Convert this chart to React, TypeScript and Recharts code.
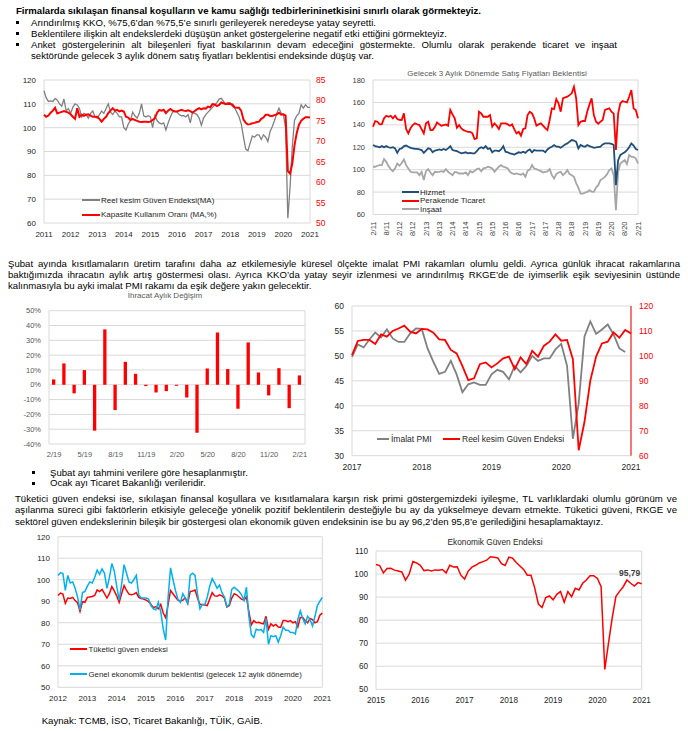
import React from "react";
import { LineChart, Line, BarChart, Bar, XAxis, YAxis, CartesianGrid, LabelList } from "recharts";

const FONT = "'Liberation Sans', Arial, Helvetica, sans-serif";
const GRID = "#d9d9d9";
const RED = "#ff0000";

// ---------- Reel kesim güven endeksi (MA) & KKO, 2011/01 - 2021/01 ----------
const rkgeMa = [
  115.5, 112.5, 111.0, 111.2, 111.0, 112.3, 111.5, 110.0, 109.0, 112.0, 107.0, 108.0,
  106.0, 108.5, 110.0, 109.5, 108.0, 104.5, 106.0, 105.5, 104.0, 106.0, 107.0, 104.5,
  104.0, 105.5, 107.0, 106.0, 108.0, 110.0, 106.5, 105.5, 107.0, 106.0, 104.5, 104.5,
  100.0, 99.0, 101.5, 103.0, 106.5, 105.0, 104.0, 106.0, 110.0, 105.0, 104.5, 105.0,
  104.5, 100.0, 105.0, 103.0, 102.0, 101.5, 102.0, 99.0, 102.0, 104.5, 106.5, 107.0,
  106.5, 105.5, 105.0, 105.0, 104.5, 105.5, 102.0, 106.5, 106.0, 105.5, 104.0, 101.0,
  104.0, 105.5, 106.5, 107.5, 108.5, 109.5, 110.5, 112.0, 112.3, 111.0, 110.0, 110.5,
  110.5, 109.0, 108.3, 106.5, 104.5, 101.5, 96.0, 91.0, 90.3, 93.5, 96.5, 96.0,
  97.0, 97.0, 95.0, 97.0, 96.0, 94.2, 98.4, 100.5, 103.0, 106.0, 108.2, 106.0,
  105.5, 100.0, 62.0, 75.0, 92.0, 103.0, 105.0, 106.0, 109.6, 108.2, 109.6, 108.5,
  108.5,
];
const kko = [
  76.5, 76.0, 76.3, 77.0, 77.5, 78.2, 76.8, 77.0, 77.2, 77.4, 77.2, 77.0,
  76.6, 76.0, 75.5, 78.1, 76.0, 76.5, 76.2, 76.5, 76.6, 76.3, 76.0, 76.0,
  76.0, 75.5, 74.8, 75.5, 76.0, 76.9, 77.5, 78.1, 77.5, 77.7, 77.3, 77.5,
  77.3, 76.0, 75.8, 75.2, 75.5, 75.2, 75.0, 74.8, 74.7, 74.8, 74.8, 74.7,
  74.8, 75.2, 75.6, 77.0, 77.7, 77.5, 77.7, 76.9, 77.5, 77.9, 77.5, 77.3,
  77.3, 77.5, 77.7, 77.5, 77.4, 77.6, 77.4, 77.0, 77.4, 77.8, 78.1, 77.8,
  78.1, 78.0, 78.5, 78.3, 79.1, 79.0, 78.6, 78.9, 79.5, 79.3, 79.1, 79.2,
  79.1, 79.0, 78.3, 78.2, 78.2, 77.4, 75.3, 74.5, 74.1, 74.2, 74.4, 74.5,
  74.7, 74.8, 75.5, 75.8, 76.5, 76.5, 76.2, 76.2, 76.4, 76.6, 77.0, 76.5,
  76.6, 76.3, 62.7, 62.1, 64.5, 69.0, 72.0, 74.0, 75.0, 75.5, 75.9, 75.9,
  75.8,
];
const years2011 = [2011, 2012, 2013, 2014, 2015, 2016, 2017, 2018, 2019, 2020, 2021];

// ---------- Gelecek 3 aylık satış fiyatları beklentisi, 2/11 - 2/21 ----------
const priceHizmet = [
  122, 121, 120.5, 120, 121, 120, 121, 120, 119.5, 120, 119, 115,
  118.5, 119, 121, 121.5, 120.5, 119.5, 119, 118.5, 118.5, 118, 117.5, 115,
  117, 119, 118.5, 115.5, 117, 117.5, 118, 117.5, 118.5, 117.5, 119, 121,
  117.5, 117, 116.5, 115.5, 114.5, 115, 115.5, 114.5, 115, 114.5, 114.5, 116.5,
  119, 120, 119, 121, 118.5, 119, 115.5, 117, 117, 116.5, 118, 121,
  116, 115.5, 114.5, 114, 113.5, 114.5, 115.5, 115, 116, 115, 117, 118,
  115.5, 117.5, 117, 117, 117, 117, 115.5, 118, 119.5, 120.5, 122, 120.5,
  120.5, 119.5, 121, 122.5, 123.4, 125, 126.4, 126, 124.9, 119, 122, 121,
  120.4, 122, 121, 120.4, 119.5, 119.8, 120.2, 120.5, 122.5, 123.4, 123.5, 123.4,
  123, 122, 86.2, 108.5, 113, 114.5, 115.5, 117.5, 120, 123.4, 121.5, 118.4,
  117.5,
];
const pricePerakende = [
  138.3, 143.4, 142.8, 140.4, 140.6, 145.8, 148.1, 147.2, 148.1, 145.8, 148.1, 145.2,
  144.5, 144.3, 150.2, 136.2, 132.4, 137.0, 139.8, 141.3, 140.5, 139.8, 136.2, 132.4,
  141.3, 142.8, 135.3, 135.3, 138.0, 142.2, 140.4, 139.2, 139.8, 140.4, 139.2, 153.2,
  149.3, 145.8, 137.4, 139.8, 136.8, 135.3, 134.5, 133.8, 133.8, 132.4, 127.3, 127.9,
  151.7, 150.2, 147.2, 147.2, 147.2, 148.7, 138.3, 141.3, 139.2, 136.2, 141.3, 141.3,
  141.3, 140.4, 139.2, 140.4, 136.0, 132.4, 133.8, 130.3, 136.2, 136.8, 148.7, 151.7,
  150.2, 145.8, 139.2, 140.4, 141.3, 139.2, 137.0, 135.3, 144.3, 154.7, 154.1, 163.0,
  159.2, 151.7, 163.6, 164.5, 165.1, 166.5, 168.1, 174.0, 163.6, 139.8, 142.8, 143.4,
  143.4, 151.7, 158.0, 163.6, 148.7, 142.8, 141.0, 142.8, 144.3, 153.2, 154.0, 154.7,
  151.7, 150.0, 117.5, 150.0, 159.2, 161.2, 160.6, 160.0, 165.0, 171.0, 154.7, 153.2,
  145.8,
];
const priceInsaat = [
  102.6, 102.6, 103.5, 104, 104, 109.4, 107, 103.2, 100.5, 98.7, 101.1, 105.5,
  103.5, 106, 109.1, 104, 101.1, 98.1, 97.5, 97.5, 97.5, 95.1, 98, 90.7,
  98.7, 100.5, 97.5, 95.1, 98.1, 97.8, 98.1, 98.7, 98, 100.5, 98.1, 96.5,
  95.1, 98, 97.5, 96.6, 96.6, 96.6, 97.5, 95.1, 98.7, 97.5, 98.7, 100.5,
  101.1, 98.5, 101.1, 101.5, 102.6, 102, 101.1, 98.1, 100.5, 102.6, 104, 102.6,
  102, 101, 98.1, 96.6, 96, 96.6, 96, 95.5, 96.6, 93.6, 99, 100,
  104, 101, 100.5, 99.5, 98.7, 97.5, 98, 98.5, 100.5, 95.1, 92.2, 96,
  97.5, 98.1, 95.1, 97, 99.6, 96, 95.1, 93.6, 88, 84, 78.7, 78.7,
  79.5, 80.2, 81.7, 80.5, 80.2, 84, 86.2, 90.7, 92, 93.6, 96, 99.6,
  101.1, 95.1, 63.9, 98.1, 105.5, 107, 108.5, 105, 113, 111.5, 111.5, 110,
  105.5,
];
const priceTicks = [0, 6, 12, 18, 24, 30, 36, 42, 48, 54, 60, 66, 72, 78, 84, 90, 96, 102, 108, 114, 120];
const priceTickLabels = [
  "2/11", "8/11", "2/12", "8/12", "2/13", "8/13", "2/14", "8/14", "2/15", "8/15", "2/16",
  "8/16", "2/17", "8/17", "2/18", "8/18", "2/19", "8/19", "2/20", "8/20", "2/21",
];

// ---------- İhracat aylık değişim (%) ----------
const exportMonths = [
  "2/19", "3/19", "4/19", "5/19", "6/19", "7/19", "8/19", "9/19", "10/19", "11/19", "12/19", "1/20",
  "2/20", "3/20", "4/20", "5/20", "6/20", "7/20", "8/20", "9/20", "10/20", "11/20", "12/20", "1/21", "2/21",
];
const exportChange = [
  3.6, 14.4, -5.8, 9.9, -31, 37.4, -17.1, 15.5, 7.4, -0.9, -5.2, -4.3,
  -0.7, -8.6, -32.4, 11, 35.3, 10.6, -16.2, 28.6, 8.3, -7.2, 11.2, -15.8, 6.3,
];
const exportTicks = ["2/19", "5/19", "8/19", "11/19", "2/20", "5/20", "8/20", "11/20", "2/21"];

// ---------- İmalat PMI (2017/01-2020/12) & RKGE (2017/01-2021/01) ----------
const pmi = [
  49.8, 52.3, 51.7, 53.3, 54.7, 53.7, 55.3, 53.5, 52.8, 52.8, 54.5, 55.5,
  55.4, 51.5, 48.8, 46.4, 46.8, 49.0, 46.3, 42.7, 44.3, 44.7, 44.2, 44.2,
  46.3, 47.2, 46.8, 45.3, 48.0, 46.7, 48.0, 50.0, 49.0, 49.5, 49.5, 51.3,
  52.4, 48.0, 33.4, 40.5, 53.9, 56.9, 54.4, 55.3, 56.3, 54.3, 51.5, 50.8,
];
const rkge = [
  100.3, 106.0, 106.4, 106.4, 104.8, 108.6, 107.7, 110.0, 111.0, 112.1, 109.7, 109.0,
  110.8, 110.6, 109.3, 106.6, 106.4, 102.4, 101.0, 95.9, 90.3, 91.0, 96.7, 97.4,
  95.4, 97.0, 99.0, 99.7, 94.7, 99.4, 96.7, 102.0, 99.7, 104.0, 105.7, 108.6,
  106.1, 106.4, 98.7, 62.2, 73.6, 90.1, 99.7, 105.0, 105.7, 109.4, 107.3, 110.4,
  109.0,
];
const years2017 = [2017, 2018, 2019, 2020, 2021];

// ---------- Tüketici güven endeksi & genel ekonomik durum beklentisi, 2012/01-2021/01 ----------
const tge = [
  92.7, 93.8, 93.3, 89.0, 91.5, 91.3, 91.8, 90.3, 89.3, 85.3, 89.8, 89.5,
  91.8, 92.0, 92.2, 92.7, 95.3, 94.5, 95.5, 93.5, 91.5, 93.5, 96.8, 94.8,
  92.5, 89.5, 93.5, 97.3, 95.0, 93.3, 93.0, 93.3, 94.0, 91.8, 91.3, 91.0,
  90.5, 89.8, 88.5, 87.0, 87.5, 86.5, 88.5, 84.5, 82.3, 88.5, 95.0, 93.5,
  92.0, 90.5, 90.0, 90.5, 91.5, 89.0, 94.5, 94.8, 95.2, 91.5, 88.5, 88.5,
  88.3, 88.0, 91.0, 94.0, 92.5, 92.3, 93.0, 92.5, 91.5, 87.3, 88.0, 91.5,
  93.5, 93.0, 92.0, 91.0, 90.5, 92.0, 85.0, 79.0, 81.0, 80.0, 80.2, 79.8,
  79.5, 83.0, 77.0, 79.5, 78.5, 79.2, 78.0, 77.8, 81.0, 81.0, 80.5, 81.0,
  80.0, 80.5, 78.0, 82.5, 82.5, 81.0, 80.0, 82.0, 81.5, 80.0, 80.5, 83.5,
  84.5,
];
const genelBeklenti = [
  102.0, 103.2, 103.0, 95.0, 102.0, 98.5, 99.0, 96.0, 92.0, 86.0, 94.0, 94.5,
  97.0, 99.0, 98.5, 101.0, 104.5, 102.5, 105.0, 103.0, 96.0, 101.0, 107.5, 104.0,
  97.0, 90.5, 98.0, 107.0, 103.0, 99.0, 98.5, 100.0, 102.0, 93.0, 91.5, 91.5,
  91.5, 91.0, 88.0, 86.5, 86.0, 89.5, 85.0, 77.0, 72.0, 92.0, 105.5, 100.0,
  95.0, 91.0, 89.5, 93.5, 91.5, 89.0, 102.0, 103.0, 102.0, 93.5, 86.5, 88.5,
  88.5, 92.0, 97.0, 100.5, 98.5, 96.0, 97.5, 94.0, 92.0, 87.5, 88.5, 95.5,
  96.5, 95.5, 94.5, 93.0, 90.5, 96.5, 83.0, 74.5, 73.2, 77.0, 76.5, 76.8,
  75.5, 82.0, 70.0, 74.0, 73.5, 74.0, 71.0, 74.0, 78.0, 76.5, 76.5, 75.5,
  75.5, 74.8, 81.5, 85.5, 82.0, 79.5, 83.0, 81.5, 78.5, 83.0, 88.0, 90.0,
  91.8,
];
const years2012 = [2012, 2013, 2014, 2015, 2016, 2017, 2018, 2019, 2020, 2021];

// ---------- Ekonomik güven endeksi, 2015/01-2021/01 ----------
const ekonomikGuven = [
  104.1, 103.7, 100.5, 102.4, 102.5, 101.7, 101.3, 100.9, 97.4, 100.0, 105.4, 104.8,
  103.8, 101.5, 101.8, 101.3, 101.8, 101.7, 102.0, 100.5, 103.8, 103.1, 103.2, 99.5,
  97.8, 101.3, 103.0, 103.8, 104.8, 105.4, 106.0, 107.5, 107.3, 107.0, 104.5, 103.7,
  107.3, 106.9, 105.0, 103.5, 102.0, 99.5, 99.5, 94.0, 87.0, 85.5, 89.8, 90.5,
  88.8, 91.2, 92.4, 87.8, 92.4, 90.2, 93.8, 93.1, 96.0, 97.4, 99.3, 99.3,
  98.1, 94.5, 58.6, 70.0, 80.9, 90.2, 92.5, 94.5, 97.4, 96.0, 94.8, 96.3,
  95.79,
];
const years2015 = [2015, 2016, 2017, 2018, 2019, 2020, 2021];

// tables for recharts
const kkoData = rkgeMa.map((v, i) => ({ t: 2011 + i / 12, rkge: v, kko: kko[i] }));
const priceData = priceHizmet.map((v, i) => ({
  i,
  hizmet: v,
  perakende: pricePerakende[i],
  insaat: priceInsaat[i],
}));
const exportData = exportMonths.map((m, i) => ({ m, v: exportChange[i] }));
const pmiData = rkge.map((v, i) => ({ t: 2017 + i / 12, rkge: v, pmi: pmi[i] }));
const consumerData = tge.map((v, i) => ({ t: 2012 + i / 12, tge: v, genel: genelBeklenti[i] }));
const ecoData = ekonomikGuven.map((v, i) => ({ t: 2015 + i / 12, eco: v }));

const range = (a: number, b: number, s: number) => {
  const out: number[] = [];
  for (let v = a; v <= b; v += s) out.push(v);
  return out;
};

// ---------- small helpers for text ----------
const BODY = 9.6;

function TextLine({ x, y, w, children, justify = false, bold = false, size = BODY, ls = 0 }: any) {
  return (
    <div
      style={{
        position: "absolute",
        left: x,
        top: y - 6,
        width: w,
        height: 12,
        lineHeight: "12px",
        fontSize: size,
        fontWeight: bold ? "bold" : "normal",
        letterSpacing: ls,
        whiteSpace: justify ? "normal" : "nowrap",
        textAlign: justify ? "justify" : "left",
        textAlignLast: justify ? "justify" : "auto",
      } as React.CSSProperties}
    >
      {children}
    </div>
  );
}

function Bullet({ x, y }: any) {
  return (
    <div style={{ position: "absolute", left: x, top: y - 1.5, width: 3, height: 3, background: "#000" }} />
  );
}

function Key({ x, y, len, color, thick = 2, label, size = 8, gap = 2 }: any) {
  return (
    <div
      style={{
        position: "absolute",
        left: x,
        top: y - 6,
        height: 12,
        display: "flex",
        alignItems: "center",
        whiteSpace: "nowrap",
        fontSize: size,
        color: "#262626",
      }}
    >
      <span style={{ display: "inline-block", width: len, height: thick, background: color, marginRight: gap }} />
      <span>{label}</span>
    </div>
  );
}

function Title({ cx, y, children, size = 8.2, color = "#595959" }: any) {
  return (
    <div
      style={{
        position: "absolute",
        left: cx - 150,
        top: y - 6,
        width: 300,
        height: 12,
        lineHeight: "12px",
        textAlign: "center",
        fontSize: size,
        color,
        whiteSpace: "nowrap",
      }}
    >
      {children}
    </div>
  );
}

const RotatedTick = (props: any) => {
  const { x, y, payload } = props;
  const idx = priceTicks.indexOf(payload.value);
  return (
    <g transform={`translate(${x},${y - 1}) rotate(-90)`}>
      <text x={0} y={0} dy="0.35em" textAnchor="end" fontSize={7.5} fill="#404040">
        {priceTickLabels[idx]}
      </text>
    </g>
  );
};

const lastLabel = (props: any) => {
  const { x, y, index, value } = props;
  const isLast = index === ecoData.length - 1 || (index == null && value === ekonomikGuven[ekonomikGuven.length - 1]);
  if (!isLast) return null;
  return (
    <text x={x - 12} y={y - 8} textAnchor="middle" fontSize={8.5} fontWeight="bold" fill="#404040">
      {Number(value).toFixed(2).replace(".", ",")}
    </text>
  );
};

const axisText = (size: number, fill: string) => ({ fontSize: size, fill });

export default function App() {
  return (
    <div
      style={{
        position: "absolute",
        left: 0,
        top: 0,
        width: 688,
        height: 731,
        background: "#fff",
        fontFamily: FONT,
        color: "#000",
        overflow: "hidden",
      }}
    >
      {/* Chart 1: RKGE (MA) & KKO */}
      <div style={{ position: "absolute", left: 0, top: 70 }}>
        <LineChart width={340} height={180} data={kkoData} margin={{ top: 10, right: 0, bottom: 7, left: 0 }}>
          <CartesianGrid yAxisId="l" stroke={GRID} verticalPoints={[44, 310]} />
          <XAxis
            dataKey="t"
            type="number"
            domain={[2011, 2021]}
            ticks={years2011}
            interval={0}
            height={20}
            axisLine={false}
            tickLine={false}
            tick={axisText(8, "#262626")}
          />
          <YAxis
            yAxisId="l"
            width={44}
            domain={[60, 120]}
            ticks={range(60, 120, 10)}
            interval={0}
            axisLine={false}
            tickLine={false}
            tick={axisText(8, "#262626")}
          />
          <YAxis
            yAxisId="r"
            orientation="right"
            width={30}
            domain={[50, 85]}
            ticks={range(50, 85, 5)}
            interval={0}
            axisLine={false}
            tickLine={false}
            tickSize={4}
            tickMargin={2}
            tick={axisText(8.5, RED)}
          />
          <Line yAxisId="l" dataKey="rkge" stroke="#808080" strokeWidth={1.3} dot={false} isAnimationActive={false} />
          <Line yAxisId="r" dataKey="kko" stroke={RED} strokeWidth={2} dot={false} isAnimationActive={false} />
        </LineChart>
      </div>

      {/* Chart 2: Satış fiyatları beklentisi */}
      <div style={{ position: "absolute", left: 340, top: 70 }}>
        <LineChart width={348} height={190} data={priceData} margin={{ top: 10, right: 50, bottom: 15.5, left: 0 }}>
          <CartesianGrid stroke={GRID} verticalPoints={[33, 298]} />
          <XAxis
            dataKey="i"
            type="number"
            domain={[0, 120]}
            ticks={priceTicks}
            interval={0}
            height={30}
            axisLine={false}
            tickLine={false}
            tick={<RotatedTick />}
          />
          <YAxis
            width={33}
            domain={[60, 180]}
            ticks={range(60, 180, 20)}
            interval={0}
            axisLine={false}
            tickLine={false}
            tick={axisText(7.5, "#404040")}
          />
          <Line dataKey="insaat" stroke="#a6a6a6" strokeWidth={1.8} dot={false} isAnimationActive={false} />
          <Line dataKey="hizmet" stroke="#1f4e79" strokeWidth={1.8} dot={false} isAnimationActive={false} />
          <Line dataKey="perakende" stroke={RED} strokeWidth={1.8} dot={false} isAnimationActive={false} />
        </LineChart>
      </div>

      {/* Chart 3: İhracat aylık değişim */}
      <div style={{ position: "absolute", left: 0, top: 300 }}>
        <BarChart width={320} height={170} data={exportData} margin={{ top: 10.7, right: 15, bottom: 6, left: 0 }}>
          <CartesianGrid stroke={GRID} verticalPoints={[49, 305]} />
          <XAxis
            dataKey="m"
            ticks={exportTicks}
            interval={0}
            height={20}
            axisLine={false}
            tickLine={false}
            tick={axisText(7.5, "#595959")}
          />
          <YAxis
            width={49}
            domain={[-40, 50]}
            ticks={range(-40, 50, 10)}
            interval={0}
            axisLine={false}
            tickLine={false}
            tickFormatter={(v: number) => `${v}%`}
            tick={axisText(7.5, "#595959")}
          />
          <Bar dataKey="v" fill={RED} barSize={3.3} isAnimationActive={false} />
        </BarChart>
      </div>

      {/* Chart 4: İmalat PMI & RKGE */}
      <div style={{ position: "absolute", left: 320, top: 296 }}>
        <LineChart width={368} height={180} data={pmiData} margin={{ top: 10, right: 22, bottom: 0.3, left: 0 }}>
          <CartesianGrid yAxisId="l" stroke={GRID} verticalPoints={[32, 311]} />
          <XAxis
            dataKey="t"
            type="number"
            domain={[2017, 2021]}
            ticks={years2017}
            interval={0}
            height={20}
            axisLine={false}
            tickLine={false}
            tick={axisText(8.5, "#262626")}
          />
          <YAxis
            yAxisId="l"
            width={32}
            domain={[30, 60]}
            ticks={range(30, 60, 5)}
            interval={0}
            axisLine={false}
            tickLine={false}
            tick={axisText(8.5, "#262626")}
          />
          <YAxis
            yAxisId="r"
            orientation="right"
            width={35}
            domain={[60, 120]}
            ticks={range(60, 120, 10)}
            interval={0}
            axisLine={{ stroke: RED }}
            tickLine={false}
            tick={axisText(8.5, RED)}
          />
          <Line yAxisId="l" dataKey="pmi" stroke="#808080" strokeWidth={1.8} dot={false} isAnimationActive={false} />
          <Line yAxisId="r" dataKey="rkge" stroke={RED} strokeWidth={1.8} dot={false} isAnimationActive={false} />
        </LineChart>
      </div>

      {/* Chart 5: Tüketici güven */}
      <div style={{ position: "absolute", left: 0, top: 527 }}>
        <LineChart width={340} height={185} data={consumerData} margin={{ top: 9.7, right: 17.7, bottom: 4.7, left: 0 }}>
          <CartesianGrid stroke={GRID} verticalPoints={[58, 322.3]} />
          <XAxis
            dataKey="t"
            type="number"
            domain={[2012, 2021]}
            ticks={years2012}
            interval={0}
            height={20}
            axisLine={false}
            tickLine={false}
            tick={axisText(8, "#262626")}
          />
          <YAxis
            width={58}
            domain={[50, 120]}
            ticks={range(50, 120, 10)}
            interval={0}
            axisLine={false}
            tickLine={false}
            tick={axisText(8, "#262626")}
          />
          <Line dataKey="tge" stroke={RED} strokeWidth={1.5} dot={false} isAnimationActive={false} />
          <Line dataKey="genel" stroke="#00b0f0" strokeWidth={1.5} dot={false} isAnimationActive={false} />
        </LineChart>
      </div>

      {/* Chart 6: Ekonomik güven */}
      <div style={{ position: "absolute", left: 340, top: 541 }}>
        <LineChart width={348} height={170} data={ecoData} margin={{ top: 10, right: 46.3, bottom: 1.7, left: 0 }}>
          <CartesianGrid stroke={GRID} verticalPoints={[36, 301.7]} />
          <XAxis
            dataKey="t"
            type="number"
            domain={[2015, 2021]}
            ticks={years2015}
            interval={0}
            height={20}
            axisLine={false}
            tickLine={false}
            tick={axisText(8.2, "#262626")}
          />
          <YAxis
            width={36}
            domain={[50, 110]}
            ticks={range(50, 110, 10)}
            interval={0}
            axisLine={false}
            tickLine={false}
            tick={axisText(8.2, "#262626")}
          />
          <Line dataKey="eco" stroke={RED} strokeWidth={1.5} dot={false} isAnimationActive={false}>
            <LabelList dataKey="eco" content={lastLabel} />
          </Line>
        </LineChart>
      </div>

      {/* ---------- text: top block ---------- */}
      <TextLine x={16} y={11} bold ls={0}>
        Firmalarda sıkılaşan finansal koşulların ve kamu sağlığı tedbirlerininetkisini sınırlı olarak görmekteyiz.
      </TextLine>
      <Bullet x={16} y={22.5} />
      <TextLine x={31} y={22.5}>Arındırılmış KKO, %75,6’dan %75,5’e sınırlı gerileyerek neredeyse yatay seyretti.</TextLine>
      <Bullet x={16} y={33.5} />
      <TextLine x={31} y={33.5}>
        Beklentilere ilişkin alt endekslerdeki düşüşün anket göstergelerine negatif etki ettiğini görmekteyiz.
      </TextLine>
      <Bullet x={16} y={44.5} />
      <TextLine x={31} y={44.5} w={586} justify>
        Anket göstergelerinin alt bileşenleri fiyat baskılarının devam edeceğini göstermekte. Olumlu olarak perakende ticaret ve inşaat
      </TextLine>
      <TextLine x={31} y={55.5}>
        sektöründe gelecek 3 aylık dönem satış fiyatları beklentisi endeksinde düşüş var.
      </TextLine>

      {/* chart 1 legend */}
      <Key x={82} y={200} len={18} color="#808080" thick={1.5} label="Reel kesim Güven Endeksi(MA)" size={8} gap={1} />
      <Key x={82} y={214.5} len={18} color={RED} thick={2} label="Kapasite Kullanım Oranı (MA,%)" size={8} gap={1} />

      {/* chart 2 title & legend */}
      <Title cx={497} y={73.5} size={8}>Gelecek 3 Aylık Dönemde Satış Fiyatları Beklentisi</Title>
      <Key x={402} y={192} len={17} color="#1f4e79" thick={2} label="Hizmet" size={8} gap={1} />
      <Key x={402} y={200.7} len={17} color={RED} thick={2} label="Perakende Ticaret" size={8} gap={1} />
      <Key x={402} y={209.3} len={17} color="#a6a6a6" thick={2} label="İnşaat" size={8} gap={1} />

      {/* ---------- text: middle block ---------- */}
      <TextLine x={8} y={263.5} w={672} justify>
        Şubat ayında kısıtlamaların üretim tarafını daha az etkilemesiyle küresel ölçekte imalat PMI rakamları olumlu geldi. Ayrıca günlük ihracat rakamlarına
      </TextLine>
      <TextLine x={8} y={274.5} w={672} justify>
        baktığımızda ihracatın aylık artış göstermesi olası. Ayrıca KKO’da yatay seyir izlenmesi ve arındırılmış RKGE’de de iyimserlik eşik seviyesinin üstünde
      </TextLine>
      <TextLine x={8} y={285.5}>
        kalınmasıyla bu ayki imalat PMI rakamı da eşik değere yakın gelecektir.
      </TextLine>

      <Title cx={165} y={296} size={8}>İhracat Aylık Değişim</Title>

      {/* chart 4 legend */}
      <Key x={377} y={439.3} len={12} color="#808080" thick={2} label="İmalat PMI" size={8.5} gap={2} />
      <Key x={443} y={439.3} len={17} color={RED} thick={2} label="Reel kesim Güven Endeksi" size={8.5} gap={2} />

      <Bullet x={32} y={472.7} />
      <TextLine x={50} y={472.7}>Şubat ayı tahmini verilere göre hesaplanmıştır.</TextLine>
      <Bullet x={32} y={483.3} />
      <TextLine x={50} y={483.3}>Ocak ayı Ticaret Bakanlığı verileridir.</TextLine>

      {/* ---------- text: lower block ---------- */}
      <TextLine x={15} y={498.5} w={662} justify>
        Tüketici güven endeksi ise, sıkılaşan finansal koşullara ve kısıtlamalara karşın risk primi göstergemizdeki iyileşme, TL varlıklardaki olumlu görünüm ve
      </TextLine>
      <TextLine x={15} y={510} w={662} justify>
        aşılanma süreci gibi faktörlerin etkisiyle geleceğe yönelik pozitif beklentilerin desteğiyle bu ay da yükselmeye devam etmekte. Tüketici güveni, RKGE ve
      </TextLine>
      <TextLine x={15} y={521.5}>
        sektörel güven endekslerinin bileşik bir göstergesi olan ekonomik güven endeksinin ise bu ay 96,2’den 95,8’e gerilediğini hesaplamaktayız.
      </TextLine>

      {/* chart 5 legend */}
      <Key x={70} y={649.3} len={17} color={RED} thick={2} label="Tüketici güven endeksi" size={7.8} gap={1.5} />
      <Key x={70} y={674} len={17} color="#00b0f0" thick={2} label="Genel ekonomik durum beklentisi (gelecek 12 aylık dönemde)" size={7.8} gap={1.5} />

      <Title cx={495} y={542.3} size={8.3} color="#262626">Ekonomik Güven Endeksi</Title>

      <TextLine x={41.7} y={720.7}>Kaynak: TCMB, İSO, Ticaret Bakanlığı, TÜİK, GAİB.</TextLine>
    </div>
  );
}
